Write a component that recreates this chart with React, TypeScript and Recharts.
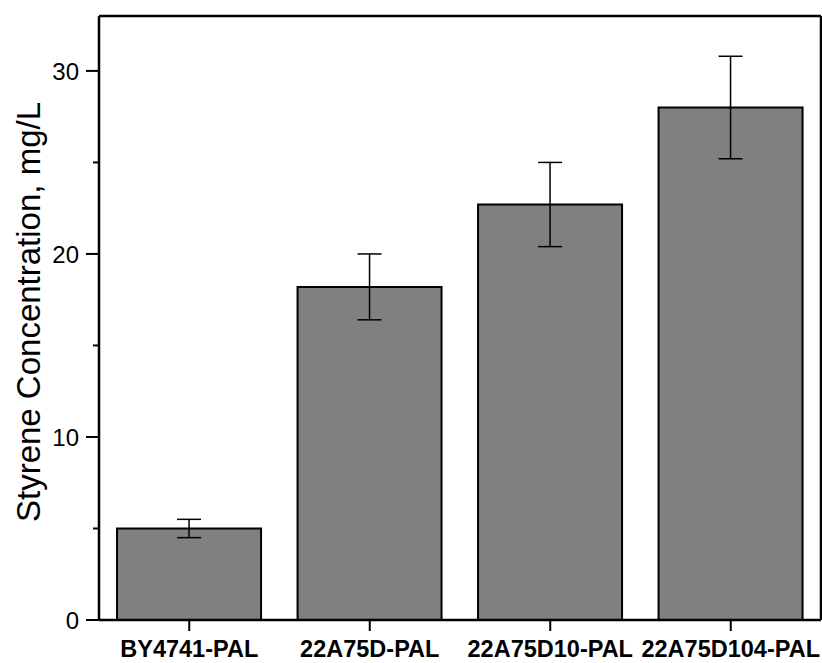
import { Bar, BarChart, ErrorBar, XAxis, YAxis } from "recharts";

const strains = ["BY4741-PAL", "22A75D-PAL", "22A75D10-PAL", "22A75D104-PAL"];
const styrene = [5.0, 18.2, 22.7, 28.0];
const stdDev = [0.5, 1.8, 2.3, 2.8];
const yTicks = [0, 5, 10, 15, 20, 25, 30];
const yLabelled = [0, 10, 20, 30];

const data = strains.map((name, i) => ({ name, value: styrene[i], err: stdDev[i] }));

const W = 822;
const H = 663;
const PLOT_LEFT = 99;
const FONT = "'Liberation Sans', Arial, sans-serif";

function YTick(props: any) {
  const { y, payload } = props;
  const major = yLabelled.includes(payload.value);
  const len = major ? 13 : 6;
  return (
    <g>
      <line x1={PLOT_LEFT - len} x2={PLOT_LEFT} y1={y} y2={y} stroke="#000" strokeWidth={2} />
      {major && (
        <text
          x={PLOT_LEFT - 20}
          y={y}
          dy="0.36em"
          textAnchor="end"
          fontSize={24}
          fontFamily={FONT}
          fill="#000"
        >
          {payload.value}
        </text>
      )}
    </g>
  );
}

export default function App() {
  return (
    <div style={{ position: "absolute", left: 0, top: 0, width: W, height: H, background: "#fff" }}>
      <BarChart
        width={W}
        height={H}
        data={data}
        margin={{ top: 15, right: 0, left: 0, bottom: 0 }}
        barCategoryGap="10%"
      >
        <XAxis
          dataKey="name"
          height={43}
          stroke="#000"
          strokeWidth={2.5}
          tickSize={11}
          tickMargin={9}
          tickLine={{ stroke: "#000", strokeWidth: 2 }}
          tick={{ fill: "#000", fontSize: 23.5, fontWeight: "bold", fontFamily: FONT }}
          interval={0}
        />
        <XAxis
          xAxisId="top"
          orientation="top"
          dataKey="name"
          height={1}
          stroke="#000"
          strokeWidth={2.5}
          tick={false}
          tickLine={false}
        />
        <YAxis
          width={PLOT_LEFT}
          domain={[0, 33]}
          ticks={yTicks}
          interval={0}
          stroke="#000"
          strokeWidth={2.5}
          tickLine={false}
          tick={<YTick />}
          label={{
            value: "Styrene Concentration, mg/L",
            angle: -90,
            position: "insideLeft",
            offset: 0,
            style: { textAnchor: "middle", fontSize: 33, fontFamily: FONT, fill: "#000" },
            dx: 28,
            dy: -6,
          }}
        />
        <YAxis
          yAxisId="right"
          orientation="right"
          width={1}
          domain={[0, 33]}
          stroke="#000"
          strokeWidth={2.5}
          tick={false}
          tickLine={false}
        />
        <Bar dataKey="value" fill="#808080" stroke="#000" strokeWidth={2} isAnimationActive={false}>
          <ErrorBar dataKey="err" width={12} stroke="#000" strokeWidth={1.5} />
        </Bar>
      </BarChart>
    </div>
  );
}
